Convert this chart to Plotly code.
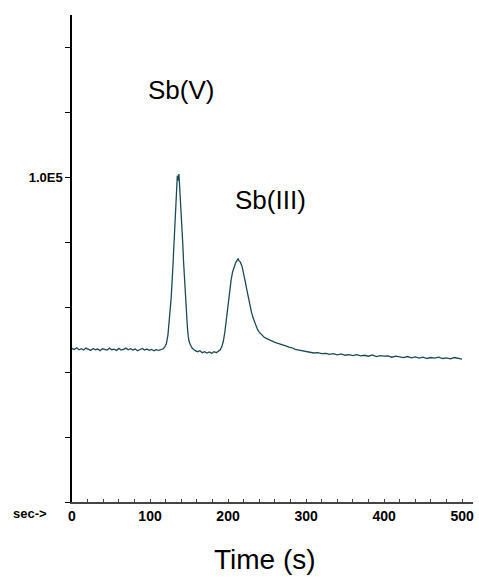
import numpy as np
import plotly.graph_objects as go

# Retention time (s) and detector signal (thousands of counts)
time_s = [0, 3, 6, 9, 12, 15, 18, 21, 24, 27, 30, 33, 36, 39, 42, 45, 48, 51, 54, 57,
          60, 63, 66, 69, 72, 75, 78, 81, 84, 87, 90, 93, 96, 99, 102, 105, 108, 111, 114, 117,
          119, 121, 123, 125, 127, 129, 131, 133, 134, 135, 136, 137, 138, 139, 140, 141, 142, 143, 144, 145,
          146, 147, 148, 149, 150, 152, 154, 156, 158, 161, 164, 167, 170, 173, 176, 179, 182, 185, 188, 190,
          192, 194, 196, 198, 200, 202, 204, 206, 208, 210, 212, 213, 214, 216, 218, 220, 222, 224, 226, 228,
          230, 232, 234, 236, 238, 240, 243, 246, 249, 252, 255, 258, 261, 264, 267, 270, 274, 278, 282, 286,
          290, 295, 300, 305, 310, 315, 320, 325, 330, 335, 340, 345, 350, 355, 360, 365, 370, 375, 380, 385,
          390, 395, 400, 405, 410, 415, 420, 425, 430, 435, 440, 445, 450, 455, 460, 465, 470, 475, 480, 485,
          490, 495, 500]
signal_k = [47.3, 47.0, 47.5, 46.9, 47.2, 46.8, 47.4, 47.0, 46.7, 47.3, 46.9, 47.1, 46.6, 47.2, 47.0, 46.8, 47.4, 46.9, 47.1, 46.7,
            47.3, 46.8, 47.0, 47.4, 46.9, 47.2, 46.8, 47.1, 46.6, 47.0, 47.3, 46.8, 47.1, 46.7, 47.0, 46.6, 46.9, 46.7, 47.0, 47.2,
            47.8, 48.8, 51.5, 56.0, 62.5, 71.0, 81.0, 91.5, 96.5, 100.5, 99.0, 101.0, 97.0, 93.0, 89.0, 86.0, 79.5, 74.0, 69.0, 65.0,
            60.5, 56.5, 53.5, 51.0, 49.5, 48.3, 47.4, 47.0, 46.6, 46.3, 46.6, 46.0, 46.3, 45.9, 46.2, 45.8, 46.3, 46.0, 46.5, 46.9,
            47.8, 49.5, 52.5, 56.5, 61.0, 65.0, 68.5, 71.0, 72.8, 73.8, 74.6, 75.0, 74.3, 73.8, 72.5, 70.5, 68.0, 65.5, 63.0, 60.5,
            58.5, 56.8, 55.3, 54.0, 53.0, 52.3, 51.5, 50.8, 50.4, 50.0, 49.7, 49.4, 49.1, 48.9, 48.6, 48.4, 48.1, 47.7, 47.5, 47.0,
            46.8, 46.5, 46.4, 46.1, 45.9, 46.0, 45.7, 45.8, 45.5, 45.7, 45.3, 45.6, 45.2, 45.4, 45.1, 45.4, 45.0, 45.2, 44.9, 45.3,
            44.8, 45.1, 44.9, 45.0, 44.6, 44.9, 44.7, 44.5, 44.8, 44.4, 44.7, 44.3, 44.6, 44.2, 44.5, 44.3, 44.6, 44.2, 44.4, 44.1,
            44.5, 44.2, 44.0]

y_tickvals = [0, 20000, 40000, 60000, 80000, 100000, 120000, 140000]
y_ticktext = ["", "", "", "", "", "1.0E5", "", ""]
x_tickvals = [0, 100, 200, 300, 400, 500]
x_ticktext = ["0", "100", "200", "300", "400", "500"]

peak_labels = ["Sb(V)", "Sb(III)"]
peak_label_x = [140, 255]
peak_label_y = [127000, 93000]

signal = np.array(signal_k) * 1000.0

FONT = "Liberation Sans, Arial, sans-serif"

fig = go.Figure()
fig.add_trace(go.Scatter(
    x=time_s, y=signal, mode="lines",
    line=dict(color="#1b4b57", width=1.3),
    hoverinfo="skip", showlegend=False,
))

for txt, lx, ly in zip(peak_labels, peak_label_x, peak_label_y):
    fig.add_annotation(x=lx, y=ly, xref="x", yref="y", text=txt, showarrow=False,
                       font=dict(family=FONT, size=26, color="black"))

fig.add_annotation(x=-0.105, y=-0.024, xref="paper", yref="paper", text="sec->",
                   showarrow=False, xanchor="center", yanchor="middle",
                   font=dict(family=FONT, size=13, color="black", weight="bold"))
fig.add_annotation(x=0.481, y=-0.119, xref="paper", yref="paper", text="Time (s)",
                   showarrow=False, xanchor="center", yanchor="middle",
                   font=dict(family=FONT, size=28, color="black"))

fig.update_layout(
    width=479, height=582,
    margin=dict(l=72, r=6, t=15, b=80),
    paper_bgcolor="white", plot_bgcolor="white",
    xaxis=dict(
        range=[0, 514], showgrid=False, zeroline=False,
        showline=True, linecolor="#444", linewidth=1.5,
        tickmode="array", tickvals=x_tickvals, ticktext=x_ticktext,
        ticks="inside", ticklen=3, tickcolor="#444",
        minor=dict(dtick=20, tick0=0, ticks="inside", ticklen=3, tickcolor="#444"),
        tickfont=dict(family=FONT, size=14, color="black", weight="bold"),
    ),
    yaxis=dict(
        range=[0, 150000], showgrid=False, zeroline=False,
        showline=True, linecolor="black", linewidth=1.5,
        tickmode="array", tickvals=y_tickvals, ticktext=y_ticktext,
        ticks="outside", ticklen=5, tickcolor="black",
        tickfont=dict(family=FONT, size=13, color="black", weight="bold"),
    ),
)

fig.write_html("out.html", config={"displayModeBar": False},
               post_script="document.body.style.margin='0';document.body.style.overflow='hidden';")
